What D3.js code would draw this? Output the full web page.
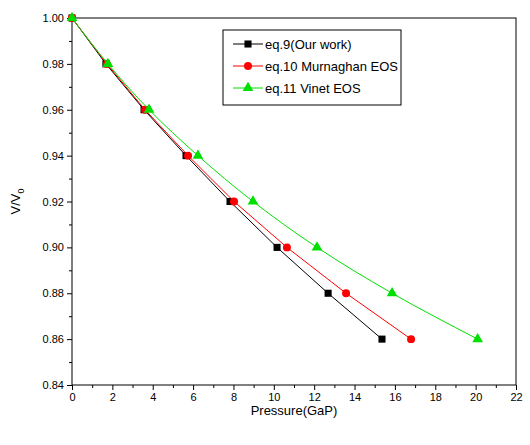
<!DOCTYPE html>
<html><head><meta charset="utf-8">
<script src="https://cdn.jsdelivr.net/npm/d3@7"></script>
<style>body{margin:0;background:#fff}text{font-family:Arial,"Liberation Sans",sans-serif}</style>
</head><body><div id="chart"></div>
<script>
// values
const volumeRatio = [1.00, 0.98, 0.96, 0.94, 0.92, 0.90, 0.88, 0.86]
const pOurWork = [0, 1.68, 3.57, 5.65, 7.83, 10.16, 12.69, 15.36]
const pMurnaghan = [0, 1.73, 3.62, 5.75, 8.03, 10.65, 13.58, 16.8]
const pVinet = [0, 1.78, 3.82, 6.24, 8.97, 12.14, 15.86, 20.1]
const seriesNames = ["eq.9(Our work)", "eq.10 Murnaghan EOS", "eq.11 Vinet EOS"]
const xTicks = d3.range(0, 23, 2)
const yTicks = d3.range(0.84, 1.0001, 0.02)

const width = 530, height = 445
const margin = {top: 18, right: 14, bottom: 60, left: 72}

const svg = d3.select("#chart").append("svg")
    .attr("width", width).attr("height", height)

const x = d3.scaleLinear().domain([0, 22]).range([margin.left, width - margin.right])
const y = d3.scaleLinear().domain([0.84, 1.0]).range([height - margin.bottom, margin.top])

// frame
svg.append("rect")
    .attr("x", margin.left).attr("y", margin.top)
    .attr("width", x(22) - x(0)).attr("height", y(0.84) - y(1.0))
    .attr("fill", "none").attr("stroke", "black")

// axes
const xAxis = svg.append("g").attr("transform", `translate(0,${y(0.84)})`)
    .call(d3.axisBottom(x).tickValues(xTicks).tickSize(5).tickSizeOuter(0))
xAxis.append("g").call(d3.axisBottom(x).tickValues(d3.range(1, 22, 2)).tickSize(3).tickFormat(""))
const yAxis = svg.append("g").attr("transform", `translate(${x(0)},0)`)
    .call(d3.axisLeft(y).tickValues(yTicks).tickFormat(d3.format(".2f")).tickSize(5).tickSizeOuter(0))
yAxis.append("g").call(d3.axisLeft(y).tickValues(d3.range(0.85, 1.0, 0.02)).tickSize(3).tickFormat(""))
svg.selectAll(".domain").remove()
svg.selectAll(".tick text").attr("font-size", 11).attr("fill", "black")
    .attr("font-family", "Arial, 'Liberation Sans', sans-serif")

svg.append("text").attr("x", (x(0) + x(22)) / 2).attr("y", height - 30)
    .attr("text-anchor", "middle").attr("font-size", 13).text("Pressure(GaP)")
svg.append("text").attr("transform", `translate(20,${(y(0.84) + y(1)) / 2}) rotate(-90)`)
    .attr("text-anchor", "middle").attr("font-size", 13)
    .html('V/V<tspan font-size="9" dy="4">0</tspan>')

const series = [
  {name: seriesNames[0], p: pOurWork, color: "black", shape: d3.symbolSquare, curve: d3.curveLinear},
  {name: seriesNames[1], p: pMurnaghan, color: "red", shape: d3.symbolCircle, curve: d3.curveLinear},
  {name: seriesNames[2], p: pVinet, color: "#00e000", shape: d3.symbolTriangle, curve: d3.curveMonotoneY}
]

series.forEach(s => {
    const pts = s.p.map((p, i) => [p, volumeRatio[i]])
    svg.append("path").datum(pts)
        .attr("fill", "none").attr("stroke", s.color).attr("stroke-width", 1)
        .attr("d", d3.line().x(d => x(d[0])).y(d => y(d[1])).curve(s.curve))
    svg.append("g").selectAll("path").data(pts).join("path")
        .attr("transform", d => `translate(${x(d[0])},${y(d[1])})`)
        .attr("d", d3.symbol().type(s.shape).size(50))
        .attr("fill", s.color)
})

// legend
const lg = svg.append("g").attr("transform", "translate(223,30)")
lg.append("rect").attr("width", 178).attr("height", 75)
    .attr("fill", "white").attr("stroke", "black")
series.forEach((s, i) => {
    const g = lg.append("g").attr("transform", `translate(0,${14 + i * 22})`)
    g.append("line").attr("x1", 10).attr("x2", 40).attr("stroke", s.color)
    g.append("path").attr("transform", "translate(25,0)")
        .attr("d", d3.symbol().type(s.shape).size(50)).attr("fill", s.color)
    g.append("text").attr("x", 42).attr("y", 5).attr("font-size", 13).text(s.name)
})
</script></body></html>
